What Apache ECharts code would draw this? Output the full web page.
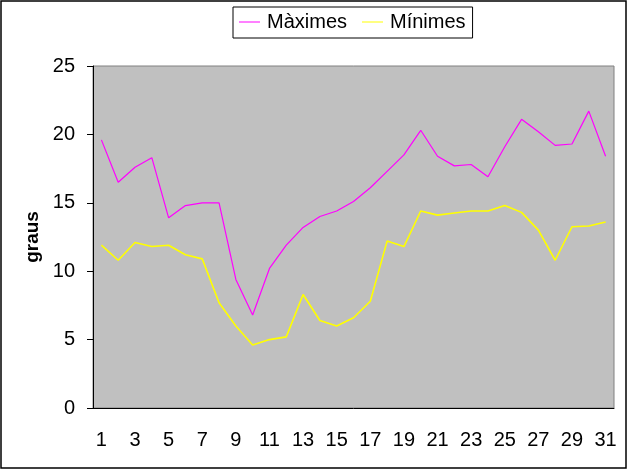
<!DOCTYPE html>
<html>
<head>
<meta charset="utf-8">
<script src="https://cdn.jsdelivr.net/npm/echarts@6/dist/echarts.min.js"></script>
<style>
html, body { margin: 0; padding: 0; background: #fff; }
#chart { width: 628px; height: 470px; }
</style>
</head>
<body>
<div id="chart"></div>
<script>
var days = [];
for (var d = 1; d <= 31; d++) days.push(String(d));

var maximes = [19.6, 16.5, 17.6, 18.3, 13.9, 14.8, 15.0, 15.0, 9.4, 6.8,
    10.2, 11.9, 13.2, 14.0, 14.4, 15.1, 16.1, 17.3, 18.5, 20.3,
    18.4, 17.7, 17.8, 16.9, 19.1, 21.1, 20.2, 19.2, 19.3, 21.7, 18.4];
var minimes = [11.9, 10.8, 12.1, 11.8, 11.9, 11.2, 10.9, 7.7, 6.0, 4.6,
    5.0, 5.2, 8.3, 6.4, 6.0, 6.6, 7.8, 12.2, 11.8, 14.4,
    14.1, 14.25, 14.4, 14.4, 14.8, 14.3, 13.0, 10.8, 13.25, 13.3, 13.6];

var chart = echarts.init(document.getElementById('chart'));

var font = 'Arial, "Liberation Sans", sans-serif';

option = {
    animation: false,
    backgroundColor: '#ffffff',
    textStyle: { fontFamily: font },
    graphic: [{
        type: 'rect',
        shape: { x: 1, y: 1, width: 625, height: 467 },
        style: { fill: 'none', stroke: '#000', lineWidth: 1.5 },
        silent: true
    }],
    legend: {
        top: 7,
        left: 233,
        icon: 'rect',
        itemWidth: 21,
        itemHeight: 1,
        itemGap: 15,
        padding: [5, 7, 6, 6],
        borderColor: '#000',
        borderWidth: 1,
        textStyle: { fontSize: 20, color: '#000', fontFamily: font, padding: [0, 0, 0, 2] },
        data: ['Màximes', 'Mínimes']
    },
    grid: {
        left: 93,
        top: 66,
        right: 14,
        bottom: 62,
        show: true,
        backgroundColor: '#c0c0c0',
        borderColor: '#808080',
        borderWidth: 1
    },
    xAxis: {
        type: 'category',
        data: days,
        boundaryGap: true,
        axisLine: { lineStyle: { color: '#000', width: 1 } },
        axisTick: { interval: 0, length: 6, lineStyle: { color: '#000' } },
        axisLabel: { interval: 1, fontSize: 20, color: '#000', margin: 22 },
        splitLine: { show: false }
    },
    yAxis: {
        type: 'value',
        min: 0,
        max: 25,
        interval: 5,
        name: 'graus',
        nameLocation: 'middle',
        nameGap: 49,
        nameTextStyle: { fontSize: 19, fontWeight: 'bold', color: '#000' },
        axisLine: { show: true, lineStyle: { color: '#000', width: 1 } },
        axisTick: { show: true, length: 6, lineStyle: { color: '#000' } },
        axisLabel: { fontSize: 20, color: '#000', margin: 18 },
        splitLine: { show: false }
    },
    series: [{
        name: 'Màximes',
        type: 'line',
        symbol: 'none',
        data: maximes,
        itemStyle: { color: '#ff00ff' },
        lineStyle: { color: '#ff00ff', width: 1.2 }
    }, {
        name: 'Mínimes',
        type: 'line',
        symbol: 'none',
        data: minimes,
        itemStyle: { color: '#ffff00' },
        lineStyle: { color: '#ffff00', width: 1.6 }
    }]
};

chart.setOption(option);
</script>
</body>
</html>
